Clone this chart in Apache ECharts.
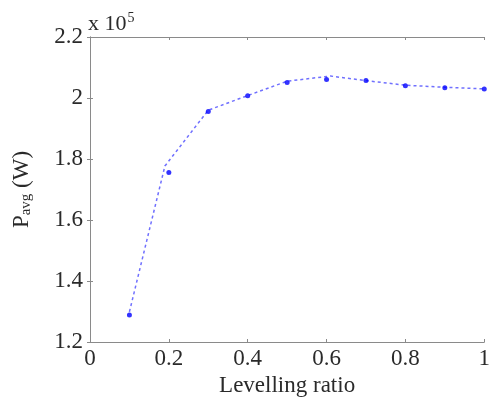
<!DOCTYPE html>
<html><head><meta charset="utf-8">
<script src="https://cdn.jsdelivr.net/npm/echarts@6/dist/echarts.min.js"></script>
<style>html,body{margin:0;padding:0;background:#fff}#c{width:493px;height:403px}</style>
</head><body><div id="c"></div>
<script>
// Measured points (levelling ratio, average power in W)
const ratios = [0.1, 0.2, 0.3, 0.4, 0.5, 0.6, 0.7, 0.8, 0.9, 1.0];
const pAvg = [128850, 175600, 195600, 200750, 205100, 206100, 205700, 204000, 203400, 202950];
// Dashed fitted curve vertices
const curveX = [0.1, 0.19, 0.3, 0.4, 0.5, 0.61, 0.7, 0.8, 0.9, 1.0];
const curveY = [129900, 177700, 196000, 200800, 205500, 207200, 205700, 204200, 203500, 203000];
const xTicks = [0, 0.2, 0.4, 0.6, 0.8, 1];
const yTicks = [1.2, 1.4, 1.6, 1.8, 2, 2.2];

const font = 'Liberation Serif';
const txt = '#2a2a2a';
const axisCol = '#8a8a8a';
const chart = echarts.init(document.getElementById('c'));
const hidden = {show:false};
chart.setOption({
  animation:false,
  grid:{left:90,right:6,top:37,bottom:61},
  xAxis:[{
    type:'value',min:0,max:1,interval:0.2,
    axisLine:{lineStyle:{color:axisCol,width:1}},
    axisTick:{inside:true,length:3,lineStyle:{color:axisCol}},
    axisLabel:{color:txt,fontFamily:font,fontSize:23,margin:5,formatter:v=>String(+v.toFixed(1))},
    splitLine:hidden,
    name:'Levelling ratio',nameLocation:'middle',nameGap:32,
    nameTextStyle:{color:txt,fontFamily:font,fontSize:23}
  },{
    type:'value',position:'top',min:0,max:1,interval:0.2,
    axisLine:{lineStyle:{color:axisCol,width:1}},
    axisTick:{inside:true,length:3,lineStyle:{color:axisCol}},
    axisLabel:hidden,splitLine:hidden
  }],
  yAxis:[{
    type:'value',min:120000,max:220000,interval:20000,
    axisLine:{show:true,lineStyle:{color:axisCol,width:1}},
    axisTick:{show:true,inside:true,length:3,lineStyle:{color:axisCol}},
    axisLabel:{color:txt,fontFamily:font,fontSize:23,margin:7,formatter:v=>String(+(v/1e5).toFixed(1))},
    splitLine:hidden,
    name:'{p|P}{s|avg}{p| (W)}',nameLocation:'middle',nameGap:56,nameRotate:90,
    nameTextStyle:{rich:{p:{color:txt,fontFamily:font,fontSize:23},s:{color:txt,fontFamily:font,fontSize:15,verticalAlign:'bottom',padding:[10,0,0,0]}}}
  },{
    type:'value',position:'right',min:120000,max:220000,interval:20000,
    axisLine:{show:true,lineStyle:{color:axisCol,width:1}},
    axisTick:{show:true,inside:true,length:3,lineStyle:{color:axisCol}},
    axisLabel:hidden,splitLine:hidden
  }],
  graphic:[{
    type:'text',left:88,top:11,
    style:{text:'{a|x 10}{b|5}',rich:{a:{fontFamily:font,fontSize:22,fill:txt},b:{fontFamily:font,fontSize:14,fill:txt,verticalAlign:'top',padding:[0,0,12,1]}}}
  }],
  series:[{
    type:'line',
    data:curveX.map((x,i)=>[x,curveY[i]]),
    showSymbol:false,
    lineStyle:{color:'#7070ff',width:1.5,type:[3,3]},
    z:2
  },{
    type:'scatter',
    data:ratios.map((x,i)=>[x,pAvg[i]]),
    symbol:'circle',symbolSize:5,
    itemStyle:{color:'#0000ff'},
    z:3
  }]
});
</script></body></html>
